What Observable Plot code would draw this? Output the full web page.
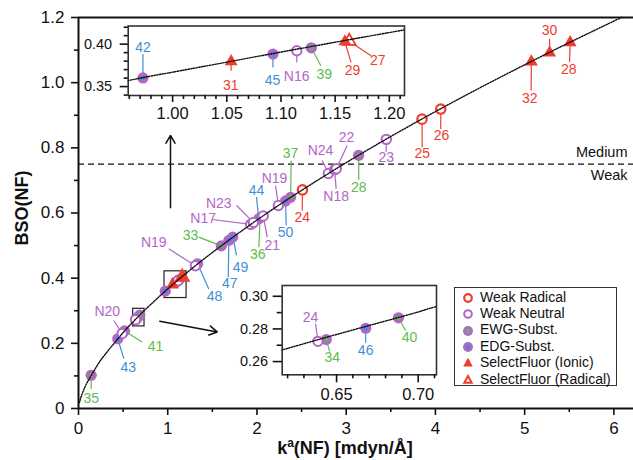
<!DOCTYPE html>
<html><head><meta charset="utf-8">
<script src="https://cdn.jsdelivr.net/npm/d3@7"></script>
<script src="https://cdn.jsdelivr.net/npm/@observablehq/plot@0.6"></script>
<style>
body{margin:0;background:#fff;font-family:"Liberation Sans",Arial,Helvetica,sans-serif;}
#wrap{position:relative;width:633px;height:460px;overflow:hidden;}
#wrap svg{position:absolute;}
.legend{position:absolute;left:454px;top:287px;width:161px;height:97px;border:1px solid #333;background:#fff;font-size:14px;color:#111;}
.legend .row{position:absolute;left:7px;height:17px;line-height:17px;white-space:nowrap;}
.legend svg{position:static !important;vertical-align:middle;margin-right:6px;}
</style>
</head><body><div id="wrap"></div>
<script>
// ---- data ----
const ids        = ["35","43","N20","41","24","34","46","40","42","31","45","N16","39","29","27","N19","48","33","47","49","N17","N23","44","36","21","N19","50","37","24","N24","N18","22","28","23","25","26","32","30","28"];
const pointClass = ["EWG","EDG","WN","EWG","WN","EWG","EDG","EWG","EDG","SFI","EDG","WN","EWG","SFI","SFR","WN","EDG","EWG","EDG","EDG","WN","WN","EDG","EWG","WN","WN","EDG","EWG","WR","WN","WN","WN","EWG","WN","WR","WR","SFI","SFI","SFI"];
const kNF        = [0.142,0.44,0.49,0.516,0.6386,0.6437,0.6679,0.6879,0.9726,1.054,1.0926,1.1146,1.128,1.159,1.163,1.31,1.335,1.60,1.685,1.73,1.93,1.96,2.02,2.035,2.07,2.24,2.32,2.377,2.51,2.80,2.87,2.89,3.14,3.45,3.85,4.06,5.075,5.28,5.51];
const bsoNF      = [0.102,0.214,0.230,0.238,0.2724,0.2735,0.2804,0.2868,0.3602,0.3796,0.3883,0.3922,0.3957,0.4030,0.4035,0.438,0.444,0.499,0.516,0.526,0.565,0.571,0.582,0.585,0.591,0.623,0.637,0.648,0.671,0.721,0.733,0.736,0.777,0.826,0.888,0.919,1.064,1.092,1.123];

// dotted power-law fit
const fitK   = [0.01,0.03,0.06,0.1,0.2,0.3,0.5,0.6,0.65,0.7,0.75,0.95,1.0,1.1,1.2,1.25,1.5,2,2.5,3,3.5,4,4.5,5,5.5,6,6.1];
const fitBSO = [0.0179,0.0368,0.058,0.081,0.1277,0.1666,0.2329,0.2625,0.2766,0.2904,0.3039,0.3549,0.367,0.3907,0.4137,0.4249,0.4788,0.5783,0.6694,0.7545,0.8348,0.9112,0.9844,1.0548,1.1229,1.1889,1.2018];

const thresholdBSO = 0.75;
const xTicks = [0,1,2,3,4,5,6];
const xMinor = [0.5,1.5,2.5,3.5,4.5,5.5];
const yTicks = [0,0.2,0.4,0.6,0.8,1.0,1.2];
const yMinor = [0.1,0.3,0.5,0.7,0.9,1.1];
const in1XTicks = [1.00,1.05,1.10,1.15,1.20];
const in1XMinor = [0.96,0.97,0.98,0.99,1.01,1.02,1.03,1.04,1.06,1.07,1.08,1.09,1.11,1.12,1.13,1.14,1.16,1.17,1.18,1.19,1.21];
const in1YTicks = [0.35,0.40];
const in1YMinor = [0.34,0.36,0.37,0.38,0.39,0.41,0.42];
const in2XTicks = [0.65,0.70];
const in2XMinor = [0.62,0.63,0.64,0.66,0.67,0.68,0.69,0.71];
const in2YTicks = [0.26,0.28,0.30];
const in2YMinor = [0.27,0.29];

// zoom boxes and arrows (data units)
const boxX1 = [0.964,0.613], boxX2 = [1.211,0.740], boxY1 = [0.339,0.252], boxY2 = [0.421,0.306];
const arrowX1 = [1.031,0.911], arrowY1 = [0.616,0.268], arrowX2 = [1.031,1.555], arrowY2 = [0.838,0.235];

// label layout: [point index, text x, text y, leader end x, leader end y]
const mainNotes = [
 [0,0.142,0.030,0.142,0.060],[1,0.557,0.127,0.508,0.153],[2,0.322,0.298,0.396,0.270],[3,0.863,0.191,0.714,0.204],
 [15,0.844,0.509,1.012,0.490],[16,1.524,0.345,1.460,0.367],[18,1.696,0.383,1.678,0.403],[19,1.816,0.434,1.771,0.470],
 [17,1.255,0.531,1.348,0.526],[20,1.397,0.582,1.498,0.580],[21,1.572,0.628,1.771,0.623],[22,1.995,0.669,1.995,0.649],
 [23,2.009,0.472,2.021,0.495],[24,2.171,0.500,2.115,0.526],[25,2.197,0.705,2.208,0.684],[26,2.320,0.539,2.328,0.562],
 [27,2.376,0.784,2.384,0.761],[28,2.507,0.585,2.507,0.608],[29,2.712,0.792,2.731,0.761],[31,3.003,0.833,3.011,0.807],
 [30,2.888,0.651,2.888,0.674],[32,3.141,0.679,3.141,0.702],[33,3.448,0.771,3.448,0.787],[34,3.852,0.782,3.852,0.802],
 [35,4.068,0.838,4.060,0.858],[36,5.058,0.952,5.073,0.976],[37,5.279,1.160,5.279,1.135],[38,5.495,1.040,5.503,1.063]
];
const inset1Notes = [
 [8,0.9726,0.3963,0.9726,0.3883],[9,1.0536,0.3512,1.054,0.3687],[10,1.0921,0.3570,1.0926,0.3726],
 [11,1.1145,0.3617,1.1146,0.3785],[12,1.140,0.3640,1.1368,0.3746],[13,1.1661,0.3687,1.1646,0.3785],[14,1.1893,0.3804,1.1831,0.3863]
];
const inset2Notes = [
 [4,0.6341,0.2871,0.6371,0.2832],[5,0.6474,0.2624,0.6457,0.2663],[6,0.6678,0.2667,0.6678,0.2716],[7,0.6947,0.2745,0.6923,0.2790]
];
const legendLabels = ["Weak Radical","Weak Neutral","EWG-Subst.","EDG-Subst.","SelectFluor (Ionic)","SelectFluor (Radical)"];
const legendClasses = ["WR","WN","EWG","EDG","SFI","SFR"];

// ---- style ----
const red="#f03b2d", purple="#b266c6", green="#5dbd4e", blue="#3f8fd6";
const classColor = {WR:red, WN:purple, EWG:green, EDG:blue, SFI:red, SFR:red};
const font = '"Liberation Sans", Arial, Helvetica, sans-serif';

const pts = ids.map((id,i)=>({id, cls:pointClass[i], x:kNF[i], y:bsoNF[i]}));
const fit = fitK.map((k,i)=>({x:k, y:fitBSO[i]}));
const boxes = boxX1.map((v,i)=>({x1:v,x2:boxX2[i],y1:boxY1[i],y2:boxY2[i]}));
const arrows = arrowX1.map((v,i)=>({x1:v,y1:arrowY1[i],x2:arrowX2[i],y2:arrowY2[i]}));
const notes = arr => arr.map(([i,tx,ty,lx,ly])=>({px:pts[i].x, py:pts[i].y, tx, ty, lx, ly, text:ids[i], c:classColor[pts[i].cls]}));

function markerMarks(data, clip){
  const f = c => data.filter(d=>d.cls===c);
  const o = {x:"x", y:"y", clip};
  return [
    Plot.dot(f("EWG").concat(f("EDG")), {...o, r:5.6, fill:purple}),
    Plot.dot(f("EWG"), {...o, r:2.3, fill:green}),
    Plot.dot(f("EDG"), {...o, r:2.3, fill:blue}),
    Plot.dot(f("WN"), {...o, r:4.7, stroke:purple, strokeWidth:2, fill:"white"}),
    Plot.dot(f("WR"), {...o, r:4.7, stroke:red, strokeWidth:2.2, fill:"white"}),
    Plot.dot(f("SFR"), {...o, symbol:"triangle", r:4.8, fill:"white", stroke:red, strokeWidth:1.8}),
    Plot.dot(f("SFI"), {...o, symbol:"triangle", r:4.8, fill:red})
  ];
}
function noteMarks(ns, fs){
  return [
    Plot.link(ns, {x1:"px", y1:"py", x2:"lx", y2:"ly", stroke:d=>d.c, strokeWidth:1.2}),
    Plot.text(ns, {x:"tx", y:"ty", text:"text", fill:d=>d.c, fontSize:fs, textAnchor:"middle", lineAnchor:"middle"})
  ];
}
function fitMark(clip){
  return Plot.line(fit, {x:"x", y:"y", curve:"natural", stroke:"#111", strokeWidth:1.4, strokeDasharray:"1.3,1.4", clip});
}

const wrap = document.getElementById("wrap");

// ---- main chart ----
const main = Plot.plot({
  width:633, height:460, marginLeft:78, marginRight:0, marginTop:17, marginBottom:52,
  style:{fontFamily:font, background:"transparent", overflow:"visible", color:"#111"},
  x:{domain:[0,6.22], label:null},
  y:{domain:[0,1.2], label:null},
  marks:[
    Plot.ruleY([thresholdBSO], {strokeDasharray:"6,4", strokeWidth:1.2, stroke:"#111"}),
    Plot.rect(boxes, {x1:"x1", x2:"x2", y1:"y1", y2:"y2", fill:"none", stroke:"#222", strokeWidth:1.2}),
    Plot.arrow(arrows, {x1:"x1", y1:"y1", x2:"x2", y2:"y2", stroke:"#111", strokeWidth:1.5, headLength:9}),
    ...noteMarks(notes(mainNotes), 14),
    ...markerMarks(pts, false),
    fitMark(false),
    Plot.text(["Medium"], {x:6.153, y:0.787, text:d=>d, textAnchor:"end", lineAnchor:"middle", fontSize:14.5, fill:"#111"}),
    Plot.text(["Weak"], {x:6.153, y:0.716, text:d=>d, textAnchor:"end", lineAnchor:"middle", fontSize:14.5, fill:"#111"}),
    Plot.axisX({ticks:xMinor, tickSize:4, tickFormat:()=>"", label:null, strokeWidth:1.6}),
    Plot.axisX({ticks:xTicks, tickSize:7, tickPadding:6, tickFormat:d=>String(d), fontSize:17, label:null, strokeWidth:1.6}),
    Plot.axisY({ticks:yMinor, tickSize:4, tickFormat:()=>"", label:null, strokeWidth:1.6}),
    Plot.axisY({ticks:yTicks, tickSize:7, tickPadding:7, tickFormat:d=>d===0?"0":d.toFixed(1), fontSize:17, label:null, strokeWidth:1.6}),
    Plot.ruleY([0], {strokeWidth:2, stroke:"#111"}),
    Plot.ruleY([1.2], {strokeWidth:2, stroke:"#111"}),
    Plot.ruleX([0], {strokeWidth:2, stroke:"#111"})
  ]
});
main.style.left="0px"; main.style.top="0px";
wrap.appendChild(main);

// ---- inset 1 (upper) ----
const in1 = Plot.plot({
  width:346, height:110, marginLeft:57.7, marginRight:12, marginTop:10.5, marginBottom:30,
  style:{fontFamily:font, background:"transparent", overflow:"visible", color:"#111"},
  x:{domain:[0.959,1.214], label:null},
  y:{domain:[0.3395,0.4214], label:null},
  marks:[
    Plot.frame({stroke:"#333", strokeWidth:1.6}),
    ...noteMarks(notes(inset1Notes), 14),
    ...markerMarks(pts.filter(d=>d.x>0.959&&d.x<1.214&&d.y>0.3395&&d.y<0.4214), true),
    fitMark(true),
    Plot.axisX({ticks:in1XMinor, tickSize:4, tickFormat:()=>"", label:null, strokeWidth:1.6}),
    Plot.axisX({ticks:in1XTicks, tickSize:7, tickPadding:5, tickFormat:d=>d.toFixed(2), fontSize:16.5, label:null, strokeWidth:1.6}),
    Plot.axisY({ticks:in1YMinor, tickSize:4, tickFormat:()=>"", label:null, strokeWidth:1.6}),
    Plot.axisY({ticks:in1YTicks, tickSize:8, tickPadding:8, tickFormat:d=>d.toFixed(2), fontSize:14.5, label:null, strokeWidth:1.6})
  ]
});
in1.style.left="70px"; in1.style.top="15px";
wrap.appendChild(in1);

// ---- inset 2 (lower) ----
const in2 = Plot.plot({
  width:216, height:130, marginLeft:51.7, marginRight:10, marginTop:5, marginBottom:35.7,
  style:{fontFamily:font, background:"transparent", overflow:"visible", color:"#111"},
  x:{domain:[0.6167,0.7112], label:null},
  y:{domain:[0.2519,0.3066], label:null},
  marks:[
    Plot.frame({stroke:"#333", strokeWidth:1.6}),
    ...noteMarks(notes(inset2Notes), 14),
    ...markerMarks(pts.filter(d=>d.x>0.6167&&d.x<0.7112&&d.y>0.2519&&d.y<0.3066), true),
    fitMark(true),
    Plot.axisX({ticks:in2XMinor, tickSize:4, tickFormat:()=>"", label:null, strokeWidth:1.6}),
    Plot.axisX({ticks:in2XTicks, tickSize:8, tickPadding:5, tickFormat:d=>d.toFixed(2), fontSize:16.5, label:null, strokeWidth:1.6}),
    Plot.axisY({ticks:in2YMinor, tickSize:5, tickFormat:()=>"", label:null, strokeWidth:1.6}),
    Plot.axisY({ticks:in2YTicks, tickSize:9, tickPadding:5, tickFormat:d=>d.toFixed(2), fontSize:14.5, label:null, strokeWidth:1.6})
  ]
});
in2.style.left="230px"; in2.style.top="280px";
wrap.appendChild(in2);

// ---- axis titles ----
const xt = document.createElement("div");
xt.style.cssText = "position:absolute;left:78px;width:534px;top:438px;text-align:center;font-weight:bold;font-size:18px;line-height:20px;color:#111;";
xt.innerHTML = 'k<sup style="font-size:12px;vertical-align:7px;line-height:0">a</sup>(NF) [mdyn/Å]';
wrap.appendChild(xt);
const yt = document.createElement("div");
yt.style.cssText = "position:absolute;left:22px;top:208px;transform:translate(-50%,-50%) rotate(-90deg);font-weight:bold;font-size:18px;white-space:nowrap;color:#111;";
yt.textContent = "BSO(NF)";
wrap.appendChild(yt);

// ---- legend ----
const lg = document.createElement("div");
lg.className = "legend";
function symbolSVG(c){
  const s = '<svg width="12" height="12" viewBox="-6 -6 12 12">';
  const tri = "M0,-5.2L4.8,3.6L-4.8,3.6Z";
  if (c==="WR") return s+`<circle r="3.8" fill="white" stroke="${red}" stroke-width="2.2"/></svg>`;
  if (c==="WN") return s+`<circle r="3.8" fill="white" stroke="${purple}" stroke-width="2"/></svg>`;
  if (c==="EWG") return s+`<circle r="5" fill="${purple}"/><circle r="2.3" fill="${green}"/></svg>`;
  if (c==="EDG") return s+`<circle r="5" fill="${purple}"/><circle r="2.3" fill="${blue}"/></svg>`;
  if (c==="SFI") return s+`<path d="${tri}" fill="${red}"/></svg>`;
  return s+`<path d="M0,-4L3.7,2.8L-3.7,2.8Z" fill="white" stroke="${red}" stroke-width="2"/></svg>`;
}
legendLabels.forEach((t,i)=>{
  const r = document.createElement("div");
  r.className = "row";
  r.style.top = (0.5 + i*16.4) + "px";
  r.innerHTML = symbolSVG(legendClasses[i]) + "<span>"+t+"</span>";
  lg.appendChild(r);
});
wrap.appendChild(lg);
</script>
</body></html>
